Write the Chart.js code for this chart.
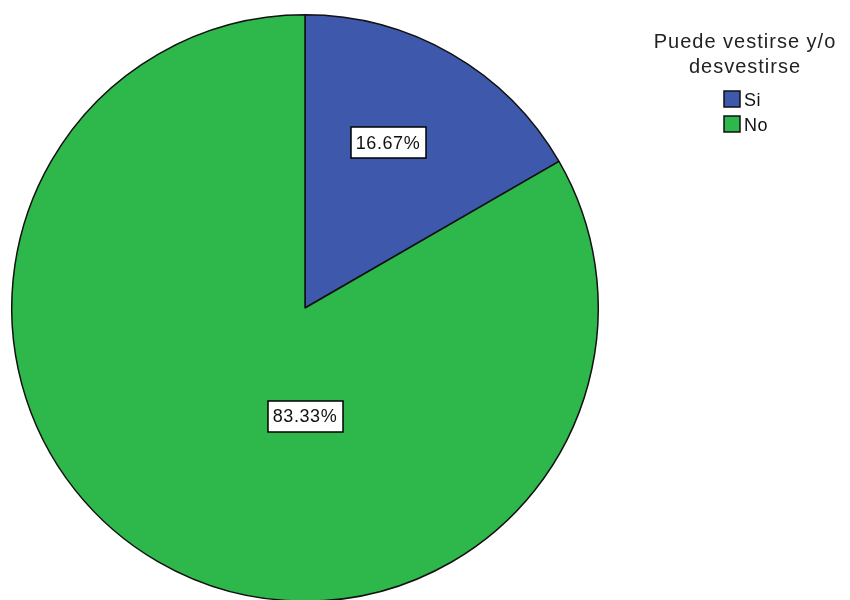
<!DOCTYPE html>
<html>
<head>
<meta charset="utf-8">
<script src="https://cdn.jsdelivr.net/npm/chart.js@4.4.1/dist/chart.umd.min.js"></script>
<style>
  html, body { margin: 0; padding: 0; background: #fff; overflow: hidden; }
  #wrap { width: 850px; height: 604px; }
</style>
</head>
<body>
<div id="wrap"><canvas id="chartCanvas" width="850" height="604"></canvas></div>
<script>
"use strict";

const categories = ["Si", "No"];
const percentages = [16.67, 83.33];
const sliceColors = ["#3e58ac", "#2eb84b"];
const legendTitle = ["Puede vestirse y/o", "desvestirse"];

const FONT = "'Liberation Sans', Arial, sans-serif";

// boxed percentage labels, placed by angle (deg clockwise from top) and radius fraction
const sliceLabels = {
  id: "sliceLabels",
  afterDatasetsDraw(chart, args, opts) {
    const ctx = chart.ctx;
    const arcs = chart.getDatasetMeta(0).data;
    ctx.save();
    ctx.font = "18px " + FONT;
    ctx.letterSpacing = "0.6px";
    ctx.textAlign = "center";
    ctx.textBaseline = "middle";
    arcs.forEach((arc, i) => {
      const place = opts.placement[i];
      const a = (place.angle - 90) * Math.PI / 180;
      const r = arc.outerRadius * place.radius;
      const x = arc.x + Math.cos(a) * r;
      const y = arc.y + Math.sin(a) * r;
      const text = percentages[i].toFixed(2) + "%";
      const w = ctx.measureText(text).width + 10;
      const h = 31;
      const bx = Math.round(x - w / 2), by = Math.round(y - h / 2);
      ctx.fillStyle = "#fff";
      ctx.fillRect(bx, by, Math.round(w), h);
      ctx.strokeStyle = "#000";
      ctx.lineWidth = 1.5;
      ctx.strokeRect(bx, by, Math.round(w), h);
      ctx.fillStyle = "#111";
      ctx.fillText(text, x, y + 1);
    });
    ctx.restore();
  }
};

// legend block on the right side
const sideLegend = {
  id: "sideLegend",
  afterDraw(chart, args, opts) {
    const ctx = chart.ctx;
    ctx.save();
    ctx.fillStyle = "#222";
    ctx.textAlign = "center";
    ctx.textBaseline = "alphabetic";
    ctx.font = "20px " + FONT;
    ctx.letterSpacing = "1px";
    legendTitle.forEach((line, i) => {
      ctx.fillText(line, opts.centerX, opts.titleY + i * 25);
    });
    ctx.textAlign = "left";
    ctx.font = "18px " + FONT;
    ctx.letterSpacing = "0.5px";
    chart.data.labels.forEach((lab, i) => {
      const y = opts.itemY + i * 25;
      ctx.fillStyle = chart.data.datasets[0].backgroundColor[i];
      ctx.fillRect(opts.boxX, y, 16, 16);
      ctx.strokeStyle = "#111";
      ctx.lineWidth = 1.5;
      ctx.strokeRect(opts.boxX, y, 16, 16);
      ctx.fillStyle = "#111";
      ctx.fillText(lab, opts.boxX + 20, y + 15);
    });
    ctx.restore();
  }
};

new Chart(document.getElementById("chartCanvas").getContext("2d"), {
  type: "pie",
  data: {
    labels: categories,
    datasets: [{
      data: percentages,
      backgroundColor: sliceColors,
      borderColor: "#111",
      borderWidth: 1.5
    }]
  },
  options: {
    responsive: false,
    animation: false,
    devicePixelRatio: 1,
    layout: { padding: { left: 11, top: 14, right: 251, bottom: 2 } },
    plugins: {
      legend: { display: false },
      tooltip: { enabled: false },
      sliceLabels: {
        placement: [{ angle: 26.7, radius: 0.63 }, { angle: 180, radius: 0.37 }]
      },
      sideLegend: { centerX: 745, titleY: 48, boxX: 724, itemY: 91 }
    }
  },
  plugins: [sliceLabels, sideLegend]
});
</script>
</body>
</html>
